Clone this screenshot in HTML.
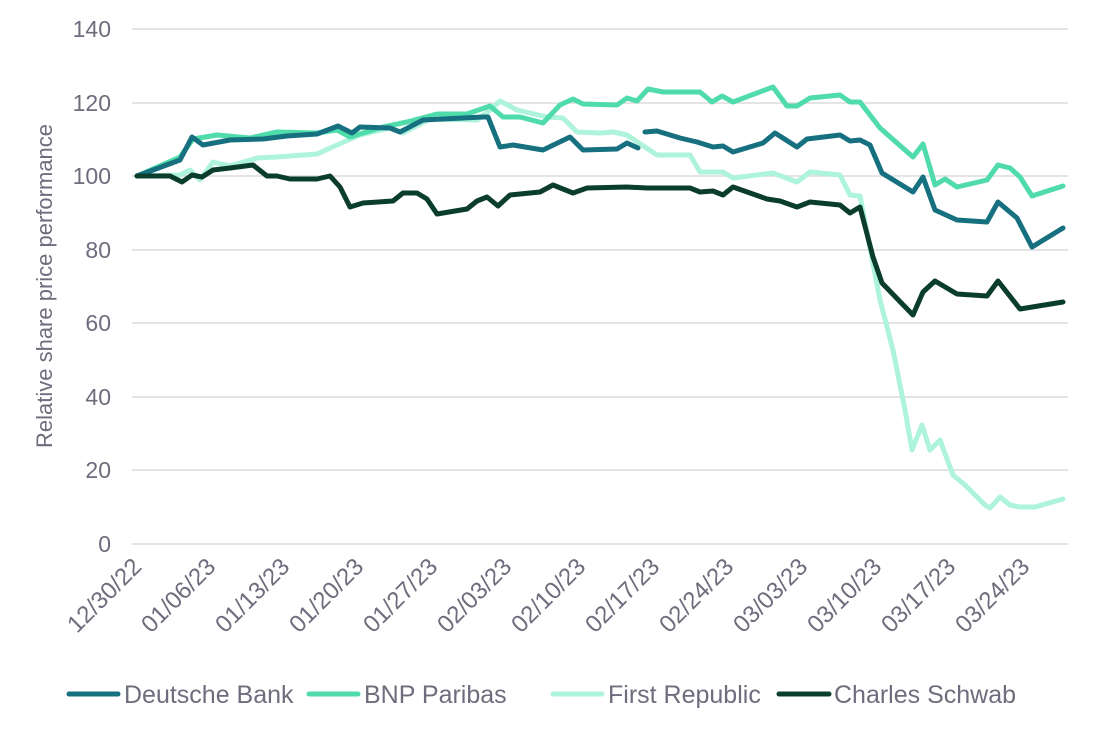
<!DOCTYPE html>
<html><head><style>
html,body{margin:0;padding:0;background:#fff;}
svg{display:block;font-family:"Liberation Sans",sans-serif;}
</style></head><body>
<svg width="1095" height="735" viewBox="0 0 1095 735">
<g stroke="#dcdcdc" stroke-width="1.5">
<line x1="132" y1="29" x2="1068" y2="29"/><line x1="132" y1="103" x2="1068" y2="103"/>
<line x1="132" y1="176" x2="1068" y2="176"/><line x1="132" y1="250" x2="1068" y2="250"/>
<line x1="132" y1="323" x2="1068" y2="323"/><line x1="132" y1="397" x2="1068" y2="397"/>
<line x1="132" y1="470" x2="1068" y2="470"/><line x1="132" y1="544" x2="1068" y2="544"/>
</g>
<g fill="#6d6d7d" font-size="23" text-anchor="end">
<text x="111" y="37">140</text><text x="111" y="111">120</text><text x="111" y="184">100</text>
<text x="111" y="258">80</text><text x="111" y="331">60</text><text x="111" y="405">40</text>
<text x="111" y="478">20</text><text x="111" y="552">0</text>
</g>
<text transform="translate(52,286) rotate(-90)" fill="#6d6d7d" font-size="22" text-anchor="middle">Relative share price performance</text>
<g fill="#6d6d7d" font-size="24" text-anchor="end">
<text transform="translate(143,568) rotate(-45)">12/30/22</text>
<text transform="translate(217,568) rotate(-45)">01/06/23</text>
<text transform="translate(291,568) rotate(-45)">01/13/23</text>
<text transform="translate(365,568) rotate(-45)">01/20/23</text>
<text transform="translate(439,568) rotate(-45)">01/27/23</text>
<text transform="translate(513,568) rotate(-45)">02/03/23</text>
<text transform="translate(587,568) rotate(-45)">02/10/23</text>
<text transform="translate(661,568) rotate(-45)">02/17/23</text>
<text transform="translate(735,568) rotate(-45)">02/24/23</text>
<text transform="translate(809,568) rotate(-45)">03/03/23</text>
<text transform="translate(883,568) rotate(-45)">03/10/23</text>
<text transform="translate(957,568) rotate(-45)">03/17/23</text>
<text transform="translate(1031,568) rotate(-45)">03/24/23</text>
</g>
<g fill="none" stroke-width="5" stroke-linejoin="round" stroke-linecap="round">
<polyline stroke="#aef3dc" points="137,176 180,175 190,170 200,180 213,162 230,166 257,158 277,157 317,154 337,145 353,138 360,135 390,128 403,133 430,119 477,120 490,110 500,101 517,110 547,117 563,118 577,132 600,133 613,132 627,135 657,155 690,155 700,172 723,172 733,178 773,173 797,182 810,172 840,175 850,195 860,196 880,300 893,350 905,410 912,450 922,425 930,450 940,440 953,475 965,485 985,505 990,508 1000,497 1010,505 1020,507 1035,507 1063,499"/>
<polyline stroke="#4fdcaa" points="137,176 180,157 193,139 217,135 250,138 277,132 317,133 337,130 350,137 383,127 407,122 437,114 467,114 490,106 503,117 520,117 543,123 560,105 573,99 583,104 617,105 627,98 637,101 648,89 663,92 700,92 712,102 722,96 733,102 773,87 787,106 797,106 810,98 840,95 850,102 860,102 880,128 913,157 923,144 935,185 945,179 957,187 987,180 998,165 1010,168 1020,177 1032,196 1063,186"/>
<polyline stroke="#16707f" points="137,176 180,160 192,137 203,145 230,140 263,139 287,136 317,134 338,126 352,133 360,127 390,128 400,132 423,120 483,117 488,117 500,147 513,145 543,150 570,137 583,150 617,149 627,143 638,148"/>
<polyline stroke="#16707f" points="645,132 657,131 680,138 697,142 713,147 723,146 733,152 763,143 775,133 797,147 807,139 840,135 850,141 860,140 870,145 882,173 913,192 923,177 935,210 957,220 987,222 998,202 1017,218 1032,247 1063,228"/>
<polyline stroke="#0b3d2c" points="137,176 170,176 182,182 192,175 202,177 213,170 230,168 253,165 267,176 277,176 290,179 317,179 330,176 340,187 350,207 363,203 393,201 403,193 417,193 427,199 437,214 467,209 477,201 487,197 498,206 510,195 540,192 553,185 573,193 587,188 627,187 647,188 690,188 700,192 713,191 723,195 733,187 767,199 780,201 797,207 810,202 840,205 850,213 860,207 873,257 882,283 913,315 923,292 935,281 957,294 987,296 998,281 1020,309 1063,302"/>
</g>
<g stroke-width="5" stroke-linecap="round">
<line x1="69" y1="694" x2="118" y2="694" stroke="#16707f"/>
<line x1="309" y1="694" x2="358" y2="694" stroke="#4fdcaa"/>
<line x1="553" y1="694" x2="602" y2="694" stroke="#aef3dc"/>
<line x1="779" y1="694" x2="829" y2="694" stroke="#0b3d2c"/>
</g>
<g fill="#6d6d7d" font-size="25">
<text x="124" y="703">Deutsche Bank</text>
<text x="364" y="703">BNP Paribas</text>
<text x="608" y="703">First Republic</text>
<text x="834" y="703">Charles Schwab</text>
</g>
</svg>
</body></html>
